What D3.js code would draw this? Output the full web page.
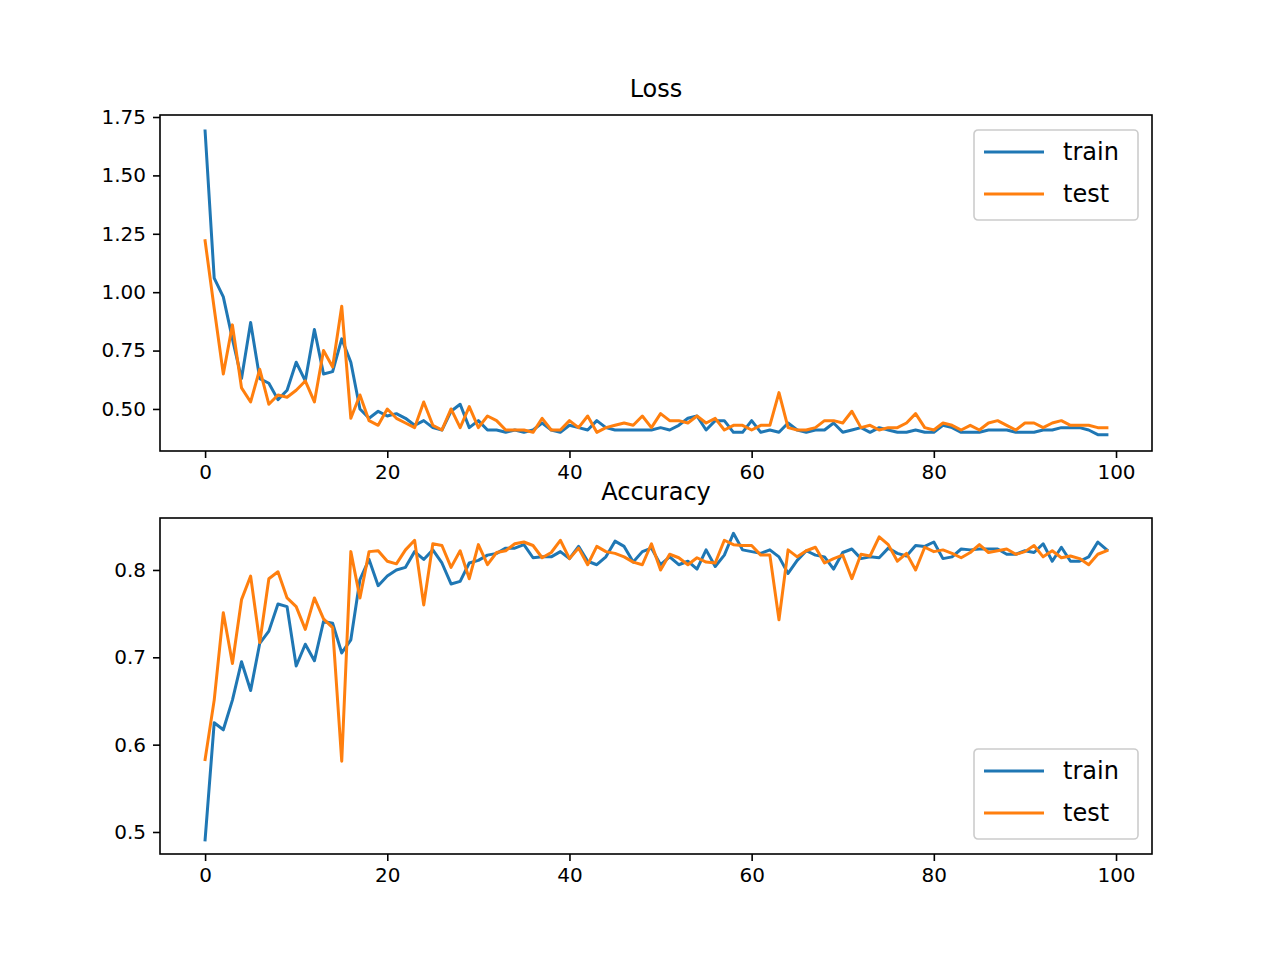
<!DOCTYPE html>
<html>
<head>
<meta charset="utf-8">
<script src="https://cdn.jsdelivr.net/npm/d3@7"></script>
<style>
  body { margin: 0; background: white; }
  text { font-family: "DejaVu Sans", sans-serif; }
</style>
</head>
<body>
<svg id="chart" width="1280" height="960"></svg>
<script>
const trainLoss = [1.69, 1.06, 0.98, 0.80, 0.63, 0.87, 0.63, 0.61, 0.54, 0.58, 0.70, 0.62, 0.84, 0.65, 0.66, 0.80, 0.70, 0.50, 0.46, 0.49,
  0.47, 0.48, 0.46, 0.43, 0.45, 0.42, 0.41, 0.49, 0.52, 0.42, 0.45, 0.41, 0.41, 0.40, 0.41, 0.40, 0.41, 0.44, 0.41, 0.40,
  0.43, 0.42, 0.41, 0.45, 0.42, 0.41, 0.41, 0.41, 0.41, 0.41, 0.42, 0.41, 0.43, 0.46, 0.47, 0.41, 0.45, 0.45, 0.40, 0.40,
  0.45, 0.40, 0.41, 0.40, 0.44, 0.41, 0.40, 0.41, 0.41, 0.44, 0.40, 0.41, 0.42, 0.40, 0.42, 0.41, 0.40, 0.40, 0.41, 0.40,
  0.40, 0.43, 0.42, 0.40, 0.40, 0.40, 0.41, 0.41, 0.41, 0.40, 0.40, 0.40, 0.41, 0.41, 0.42, 0.42, 0.42, 0.41, 0.39, 0.39];
const testLoss = [1.22, 0.93, 0.65, 0.86, 0.59, 0.53, 0.67, 0.52, 0.56, 0.55, 0.58, 0.62, 0.53, 0.75, 0.68, 0.94, 0.46, 0.56, 0.45, 0.43,
  0.50, 0.46, 0.44, 0.42, 0.53, 0.43, 0.41, 0.50, 0.42, 0.51, 0.42, 0.47, 0.45, 0.41, 0.41, 0.41, 0.40, 0.46, 0.41, 0.41,
  0.45, 0.42, 0.47, 0.40, 0.42, 0.43, 0.44, 0.43, 0.47, 0.42, 0.48, 0.45, 0.45, 0.44, 0.47, 0.44, 0.46, 0.41, 0.43, 0.43,
  0.41, 0.43, 0.43, 0.57, 0.42, 0.41, 0.41, 0.42, 0.45, 0.45, 0.44, 0.49, 0.42, 0.43, 0.41, 0.42, 0.42, 0.44, 0.48, 0.42,
  0.41, 0.44, 0.43, 0.41, 0.43, 0.41, 0.44, 0.45, 0.43, 0.41, 0.44, 0.44, 0.42, 0.44, 0.45, 0.43, 0.43, 0.43, 0.42, 0.42];
const trainAcc = [0.491, 0.625, 0.617, 0.651, 0.695, 0.662, 0.716, 0.730, 0.761, 0.758, 0.690, 0.715, 0.696, 0.741, 0.739, 0.705, 0.720, 0.789, 0.812, 0.782,
  0.793, 0.800, 0.803, 0.821, 0.812, 0.823, 0.808, 0.784, 0.787, 0.808, 0.811, 0.817, 0.819, 0.825, 0.825, 0.829, 0.814, 0.815, 0.815, 0.821,
  0.813, 0.827, 0.810, 0.806, 0.815, 0.833, 0.827, 0.809, 0.821, 0.825, 0.806, 0.815, 0.806, 0.810, 0.801, 0.823, 0.804, 0.817, 0.842, 0.823,
  0.821, 0.819, 0.823, 0.815, 0.796, 0.811, 0.822, 0.817, 0.815, 0.801, 0.820, 0.824, 0.813, 0.815, 0.814, 0.825, 0.819, 0.816, 0.828, 0.827,
  0.832, 0.813, 0.815, 0.824, 0.823, 0.824, 0.824, 0.824, 0.818, 0.818, 0.822, 0.820, 0.830, 0.810, 0.826, 0.810, 0.810, 0.815, 0.832, 0.823];
const testAcc = [0.583, 0.651, 0.751, 0.693, 0.766, 0.793, 0.717, 0.790, 0.798, 0.768, 0.758, 0.732, 0.768, 0.744, 0.734, 0.581, 0.821, 0.768, 0.821, 0.822,
  0.810, 0.807, 0.823, 0.834, 0.760, 0.830, 0.828, 0.803, 0.822, 0.790, 0.829, 0.806, 0.820, 0.822, 0.830, 0.832, 0.828, 0.814, 0.820, 0.834,
  0.813, 0.825, 0.806, 0.827, 0.821, 0.819, 0.815, 0.809, 0.806, 0.830, 0.800, 0.818, 0.814, 0.806, 0.814, 0.809, 0.808, 0.834, 0.829, 0.828,
  0.828, 0.817, 0.817, 0.743, 0.823, 0.815, 0.822, 0.826, 0.808, 0.813, 0.817, 0.790, 0.818, 0.816, 0.838, 0.829, 0.810, 0.819, 0.800, 0.826,
  0.821, 0.823, 0.819, 0.814, 0.820, 0.829, 0.820, 0.822, 0.824, 0.818, 0.821, 0.828, 0.815, 0.822, 0.814, 0.816, 0.813, 0.806, 0.818, 0.822];
const xTicks = [0, 20, 40, 60, 80, 100];
const lossTicks = [0.50, 0.75, 1.00, 1.25, 1.50, 1.75];
const accTicks = [0.5, 0.6, 0.7, 0.8];
const seriesNames = ["train", "test"];
const colours = ["#1f77b4", "#ff7f0e"];

const svg = d3.select("#chart");
const left = 160, right = 1152;

const drawPanel = (cfg) => {
    const x = d3.scaleLinear().domain([-4.95, 103.95]).range([left, right]);
    const y = d3.scaleLinear().domain(cfg.yDomain).range([cfg.bottom, cfg.top]);
    const g = svg.append("g");

    const line = d3.line().x((d, i) => x(i)).y(d => y(d));
    cfg.series.forEach((s, k) => {
        g.append("path")
            .attr("d", line(s))
            .attr("fill", "none")
            .attr("stroke", colours[k])
            .attr("stroke-width", 3)
            .attr("stroke-linejoin", "round")
            .attr("stroke-linecap", "square");
    });

    const xAxis = g.append("g")
        .attr("transform", `translate(0,${cfg.bottom})`)
        .call(d3.axisBottom(x).tickValues(xTicks).tickSize(7).tickPadding(7));
    const yAxis = g.append("g")
        .attr("transform", `translate(${left},0)`)
        .call(d3.axisLeft(y).tickValues(cfg.ticks).tickFormat(d3.format(cfg.fmt)).tickSize(7).tickPadding(7));
    [xAxis, yAxis].forEach(a => {
        a.select(".domain").remove();
        a.selectAll("line").attr("stroke", "black").attr("stroke-width", 1.6);
        a.selectAll("text").attr("font-size", 20).attr("fill", "black")
            .attr("font-family", "DejaVu Sans, sans-serif");
    });

    g.append("rect")
        .attr("x", left).attr("y", cfg.top)
        .attr("width", right - left).attr("height", cfg.bottom - cfg.top)
        .attr("fill", "none").attr("stroke", "black").attr("stroke-width", 1.6);

    g.append("text")
        .attr("x", (left + right) / 2).attr("y", cfg.top - 18)
        .attr("text-anchor", "middle")
        .attr("font-size", 24)
        .text(cfg.title);

    // legend
    const lg = g.append("g").attr("transform", `translate(${cfg.legendX},${cfg.legendY})`);
    lg.append("rect")
        .attr("width", 164).attr("height", 90).attr("rx", 4)
        .attr("fill", "white").attr("fill-opacity", 0.8)
        .attr("stroke", "#cccccc").attr("stroke-width", 1.6);
    seriesNames.forEach((name, k) => {
        lg.append("line")
            .attr("x1", 10).attr("x2", 70)
            .attr("y1", 22 + k * 42).attr("y2", 22 + k * 42)
            .attr("stroke", colours[k]).attr("stroke-width", 3);
        lg.append("text")
            .attr("x", 89).attr("y", 22 + k * 42)
            .attr("dy", "0.35em")
            .attr("font-size", 24)
            .text(name);
    });
};

drawPanel({ title: "Loss", top: 115, bottom: 451, yDomain: [0.320, 1.7586],
    ticks: lossTicks, fmt: ".2f", series: [trainLoss, testLoss], legendX: 974, legendY: 130 });
drawPanel({ title: "Accuracy", top: 518, bottom: 854, yDomain: [0.4748, 0.8595],
    ticks: accTicks, fmt: ".1f", series: [trainAcc, testAcc], legendX: 974, legendY: 749 });
</script>
</body>
</html>
